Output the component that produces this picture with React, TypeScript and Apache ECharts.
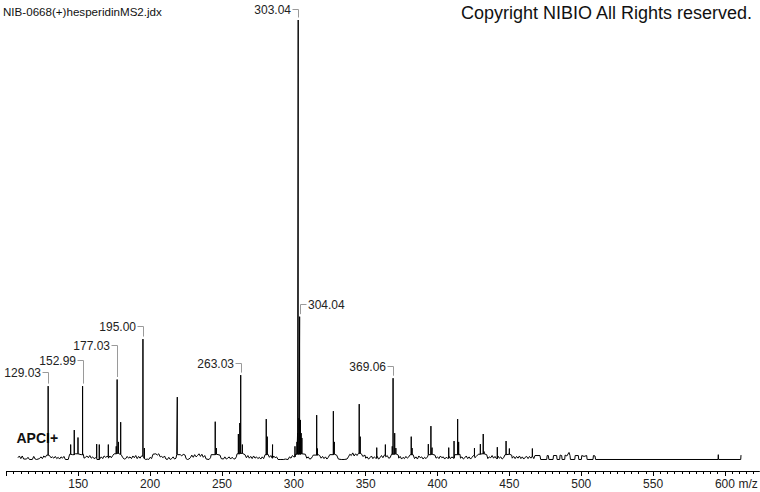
import React, { useEffect, useRef } from 'react';
import * as echarts from 'echarts';

// ---------- texts ----------
const fileTitle = 'NIB-0668(+)hesperidinMS2.jdx';
const copyrightText = 'Copyright NIBIO All Rights reserved.';
const ionModeText = 'APCI+';
const axisUnit = 'm/z';

// ---------- axis ticks ----------
const xMin = 100;
const xMax = 624;
const axisLabelValues = [150, 200, 250, 300, 350, 400, 450, 500, 550, 600];
const majorTickValues = [100, 150, 200, 250, 300, 350, 400, 450, 500, 550, 600];

// ---------- labelled peaks (m/z, relative intensity %) ----------
const labeledMz = [129.03, 152.99, 177.03, 195.0, 263.03, 303.04, 304.04, 369.06];
const labeledIntensity = [16.7, 16.7, 18.2, 27.4, 19.2, 100, 32.5, 18.5];

// ---------- other peaks ----------
const minorPeakMz = [
  144.7, 147.2, 149.8, 162.8, 164.6, 170.9, 176.4, 178.0, 179.5, 196.0,
  218.9, 245.3, 246.1, 261.4, 262.4, 264.2, 280.8, 281.5, 285.2, 300.8,
  302.2, 302.6, 303.6, 304.6, 305.1, 305.6, 315.9, 316.4, 327.5, 328.2,
  345.5, 346.2, 357.7, 363.7, 368.5, 370.2, 371.0, 381.7, 382.3, 393.6,
  395.4, 396.2, 407.8, 411.5, 414.0, 414.7, 425.7, 429.8, 431.8, 432.4,
  441.6, 447.7, 450.0, 466.0,
];
const minorPeakIntensity = [
  3.4, 6.7, 5.0, 3.5, 3.4, 3.4, 3.0, 4.0, 8.5, 2.6,
  14.2, 8.6, 2.6, 5.8, 8.3, 3.4, 9.2, 5.2, 3.4, 3.0,
  4.0, 6.0, 9.4, 9.0, 6.0, 4.9, 10.1, 2.5, 11.0, 4.0,
  12.6, 5.2, 2.7, 3.4, 3.0, 6.0, 2.6, 5.2, 2.6, 3.5,
  7.6, 2.7, 2.7, 4.2, 9.2, 4.0, 2.6, 3.5, 5.8, 1.8,
  2.8, 4.2, 2.5, 2.5,
];

// ---------- baseline noise (m/z, relative intensity %) ----------
const baselineNoise: [number, number][] = [
  [108, 0.4], [109, 0.8], [110, 0.2], [111, 0.8], [112, 0.1], [114, 0.1], [115, 0.5], [116, 0], [118, 0], [119, 0.7],
  [120, 0.1], [121, 0], [123, 0.2], [124, 0.6], [125, 0.2], [126, 0.8], [127, 0.5], [128, 1.0], [130, 0.9], [131, 0.4],
  [132, 0.6], [133, 0.3], [134, 0.7], [135, 0.2], [136, 0.5], [137, 0.1], [138, 0.6], [139, 0.3], [140, 0.7], [141, 0],
  [143, 0], [144, 1.2], [146, 1.1], [148, 1.3], [150, 1.2], [152, 1.1], [153.5, 1.2], [154, 0.3], [155, 0.5], [156, 0.8],
  [157, 0.4], [158, 0.9], [159, 0.3], [160, 0.6], [161, 0.2], [162, 0.4], [163, 0], [165, 0], [166, 0.6], [167, 0.2],
  [168, 0.8], [169, 0.5], [170, 0.7], [171, 0.3], [172, 0.8], [173, 0.4], [174, 0.9], [175, 1.3], [177, 1.4], [179, 1.2],
  [180, 1.0], [181, 0.4], [182, 0.1], [183, 0.2], [184, 0.7], [185, 0.3], [186, 0.6], [187, 0.2], [188, 0.8], [189, 0.4],
  [190, 0.9], [191, 0.2], [192, 0.7], [193, 0.3], [194, 0.8], [196, 0.2], [197, 0], [198, 0.1], [199, 0], [200, 0.5],
  [201, 0.2], [202, 1.2], [204, 1.3], [205, 1.0], [206, 1.3], [207, 0.6], [208, 0.7], [209, 0.4], [210, 0.8], [211, 0.1],
  [212, 0], [213, 0.5], [214, 0], [215, 0.2], [216, 0.6], [217, 0.1], [218, 0.3], [218.5, 1.1], [221, 1.1], [222, 0.8],
  [223, 1.2], [224.3, 1.0], [225, 0.2], [226, 0], [227, 0.1], [228, 0.4], [229, 1.0], [230, 0.5], [231, 1.1], [232, 0.6],
  [233, 0.9], [234, 1.3], [235, 0.7], [236, 1.2], [237, 0.5], [238, 0.9], [239, 0.1], [241, 0], [242, 0.4], [242.5, 1.1],
  [246, 1.2], [248.6, 1.0], [249.5, 0.2], [251, 0.1], [252, 0.6], [253, 0.1], [254, 0.3], [255, 0.6], [256, 0.1], [257, 0.5],
  [258, 0.2], [259, 0.1], [260, 0.6], [260.5, 1.3], [263, 1.4], [266, 1.1], [267, 0.4], [268, 0.9], [269, 0.3], [270, 0.7],
  [271, 0.2], [272, 0.8], [273, 0.3], [274, 0.6], [275, 0.2], [276, 0.5], [277, 0.1], [278, 0.6], [279, 0.2], [280, 1.1],
  [282, 1.2], [283, 0.5], [284, 0.9], [285, 0.3], [286, 0.8], [287, 0.4], [288, 0.6], [289, 0], [291, 0], [293, 0],
  [294, 0.1], [296, 0], [297, 0.6], [298, 0.3], [299, 0.9], [300, 0.6], [301, 1.2], [305, 1.3], [308, 1.2], [309, 0.3],
  [310, 0.6], [311, 0.1], [312, 0.2], [313, 0.7], [313.5, 1.0], [317, 1.1], [318, 0.9], [319, 0.3], [320, 0.7], [321, 0.2],
  [322, 0.6], [323, 0.1], [324, 0.5], [325, 1.1], [328, 1.2], [329.8, 1.0], [331, 0.1], [333, 0], [335, 0], [337, 0.1],
  [338, 0.6], [339, 1.2], [340, 0.9], [341, 1.5], [342, 0.8], [343, 1.3], [344, 0.9], [345, 1.4], [347, 1.3], [348, 0.7],
  [349.5, 1.0], [350, 0.3], [351, 0.6], [352, 0.1], [353, 0.4], [354, 0.8], [355, 0.2], [356, 0.6], [357, 0.3], [358, 0.7],
  [359, 0.1], [360, 0.4], [361, 0.9], [362, 0.4], [363, 1.0], [364, 0.6], [365, 0.9], [366, 0.3], [367, 0.4], [368, 1.2],
  [371, 1.3], [372.7, 1.0], [373, 0.3], [374, 0.7], [375, 0.1], [376, 0.5], [377, 0.2], [378, 0.7], [379, 0.3], [380, 0.6],
  [381, 1.1], [383, 1.1], [384, 0.2], [385, 0.6], [386, 0.1], [387, 0.8], [388, 0.4], [389, 0.6], [390, 0.1], [391, 0.5],
  [392, 0.2], [393, 0.6], [393.6, 1.1], [396, 1.2], [398.2, 1.0], [399, 0.3], [400, 0.6], [401, 0.2], [402, 0.8], [403, 0.4],
  [404, 0.6], [405, 0.1], [406, 0.5], [407, 0.3], [408, 0.7], [409, 0.2], [410, 0.6], [411, 0.3], [412, 1.1], [415.6, 1.2],
  [416, 0.3], [417, 0.6], [418, 0.1], [419, 0.4], [420, 0.8], [421, 0.2], [422, 0.6], [423, 0.1], [424, 0.5], [425, 0.9],
  [426, 0.4], [427, 0.7], [428.4, 1.2], [431, 1.3], [434.2, 1.1], [435, 0.2], [436, 0.6], [437, 0.4], [438, 0.9], [439, 0.3],
  [440, 0.7], [441, 0.2], [442, 0.8], [443, 0.3], [444, 0.6], [445, 0.1], [446, 0.4], [447, 1.1], [450, 1.2], [451.6, 1.0],
  [452, 0.3], [453, 0.7], [454, 0.2], [455, 0.7], [456, 0.3], [457, 0.8], [458, 0.2], [459, 0.6], [460, 0.1], [461, 0.5],
  [462, 0.7], [463, 0.2], [464, 0.7], [465, 0.3], [466, 0.8], [467, 0.2], [467.8, 0.9], [471.3, 0.9], [471.8, 0], [476, 0],
  [476.3, 0.9], [477.1, 0.9], [477.5, 0], [480.4, 0], [480.7, 0.9], [482.9, 0.9], [483.2, 0], [485.0, 0], [485.3, 1.0], [486.4, 0.9],
  [486.7, 0], [488.5, 0], [488.8, 1.0], [490, 0.8], [491.5, 1.6], [492.2, 0.9], [492.5, 0], [495.5, 0], [495.8, 0.9], [498, 0.9],
  [498.3, 0], [500.1, 0], [500.4, 0.9], [502, 0.7], [503.8, 0.9], [504.1, 0], [508.2, 0], [508.5, 0.9], [509.6, 0.8], [510, 0],
  [595.2, 0], [595.4, 1.1], [595.6, 0], [611, 0], [611.2, 1.0],
];

// ---------- label layout (style, px) ----------
const labelLift = [13.7, 26, 34.3, 13.3, 12.3, 10.7, 12.7, 12.3];
const labelSide = ['left', 'left', 'left', 'left', 'left', 'left', 'right', 'left'];

const FONT = "'Liberation Sans', Arial, sans-serif";

function buildSpectrum(): [number, number][] {
  type Ev = { m: number; v: number; peak: boolean };
  const evs: Ev[] = [];
  baselineNoise.forEach(([m, v]) => evs.push({ m, v, peak: false }));
  minorPeakMz.forEach((m, i) => evs.push({ m, v: minorPeakIntensity[i], peak: true }));
  labeledMz.forEach((m, i) => evs.push({ m, v: labeledIntensity[i], peak: true }));
  evs.sort((a, b) => a.m - b.m);
  const out: [number, number][] = [];
  let level = 0;
  for (const e of evs) {
    if (!e.peak) {
      out.push([e.m, e.v]);
      level = e.v;
    } else {
      out.push([e.m, level], [e.m, e.v], [e.m, level]);
    }
  }
  return out;
}

function buildMinorTicks(): number[] {
  const t: number[] = [];
  for (let v = xMin; v <= 620; v += 5) if (v % 50 !== 0) t.push(v);
  return t;
}

export default function App() {
  const ref = useRef<HTMLDivElement>(null);
  useEffect(() => {
    if (!ref.current) return;
    const chart = echarts.init(ref.current, null, { renderer: 'svg' });
    const option: any = {
      animation: false,
      backgroundColor: '#ffffff',
      grid: {
        left: 6.44,
        right: 0.6,
        top: 20,
        bottom: 21,
        containLabel: false,
        outerBoundsMode: 'none',
      },
      xAxis: [
        {
          type: 'value',
          min: xMin,
          max: xMax,
          position: 'bottom',
          axisLine: { show: true, onZero: false, lineStyle: { color: '#000', width: 1 } },
          axisTick: {
            show: true,
            length: 3,
            customValues: buildMinorTicks(),
            lineStyle: { color: '#000', width: 1 },
          },
          axisLabel: { show: false },
          splitLine: { show: false },
        },
        {
          type: 'value',
          min: xMin,
          max: xMax,
          position: 'bottom',
          axisLine: { show: false, onZero: false },
          axisTick: {
            show: true,
            length: 5,
            customValues: majorTickValues,
            lineStyle: { color: '#000', width: 1 },
          },
          axisLabel: {
            show: true,
            customValues: axisLabelValues,
            color: '#222',
            fontSize: 12,
            fontFamily: FONT,
            margin: 7,
            formatter: (v: number) => String(v),
          },
          splitLine: { show: false },
        },
      ],
      yAxis: {
        type: 'value',
        min: -2.617,
        max: 100,
        show: false,
        splitLine: { show: false },
      },
      series: [
        {
          type: 'line',
          xAxisIndex: 0,
          data: buildSpectrum(),
          symbol: 'none',
          showSymbol: false,
          lineStyle: { color: '#000', width: 1 },
          silent: true,
          clip: false,
          z: 3,
        },
        {
          type: 'custom',
          xAxisIndex: 0,
          coordinateSystem: 'cartesian2d',
          silent: true,
          clip: false,
          z: 4,
          data: labeledMz.map((m, i) => [m, labeledIntensity[i]]),
          renderItem: (params: any, api: any) => {
            const i = params.dataIndex;
            const p = api.coord([api.value(0), api.value(1)]);
            const px = Math.round(p[0]) + 0.5;
            const ly = Math.round(p[1] - labelLift[i]) + 0.5;
            const top = p[1] - 2.5;
            const dir = labelSide[i] === 'left' ? -1 : 1;
            return {
              type: 'group',
              children: [
                {
                  type: 'polyline',
                  shape: { points: [[px + dir * 6, ly], [px, ly], [px, top]] },
                  style: { stroke: '#9a9a9a', lineWidth: 1, fill: 'none' },
                },
                {
                  type: 'text',
                  x: px + dir * 7.5,
                  y: ly,
                  style: {
                    text: labeledMz[i].toFixed(2),
                    align: dir < 0 ? 'right' : 'left',
                    verticalAlign: 'middle',
                    fill: '#222',
                    fontSize: 12,
                    fontFamily: FONT,
                  },
                },
              ],
            };
          },
        },
      ],
      graphic: [
        {
          type: 'text',
          left: 3,
          top: 5,
          style: { text: fileTitle, fill: '#111', fontSize: 11.6, fontFamily: FONT },
        },
        {
          type: 'text',
          right: 7,
          top: 4,
          style: { text: copyrightText, fill: '#111', fontSize: 18, fontFamily: FONT },
        },
        {
          type: 'text',
          left: 16.5,
          top: 431,
          style: { text: ionModeText, fill: '#111', fontSize: 14, fontWeight: 'bold', fontFamily: FONT },
        },
        {
          type: 'text',
          left: 738.5,
          top: 478,
          style: { text: axisUnit, fill: '#222', fontSize: 12, fontFamily: FONT },
        },
      ],
    };
    chart.setOption(option);
    return () => chart.dispose();
  }, []);
  return (
    <div
      ref={ref}
      style={{ position: 'absolute', left: 0, top: 0, width: 760, height: 492 }}
    />
  );
}
